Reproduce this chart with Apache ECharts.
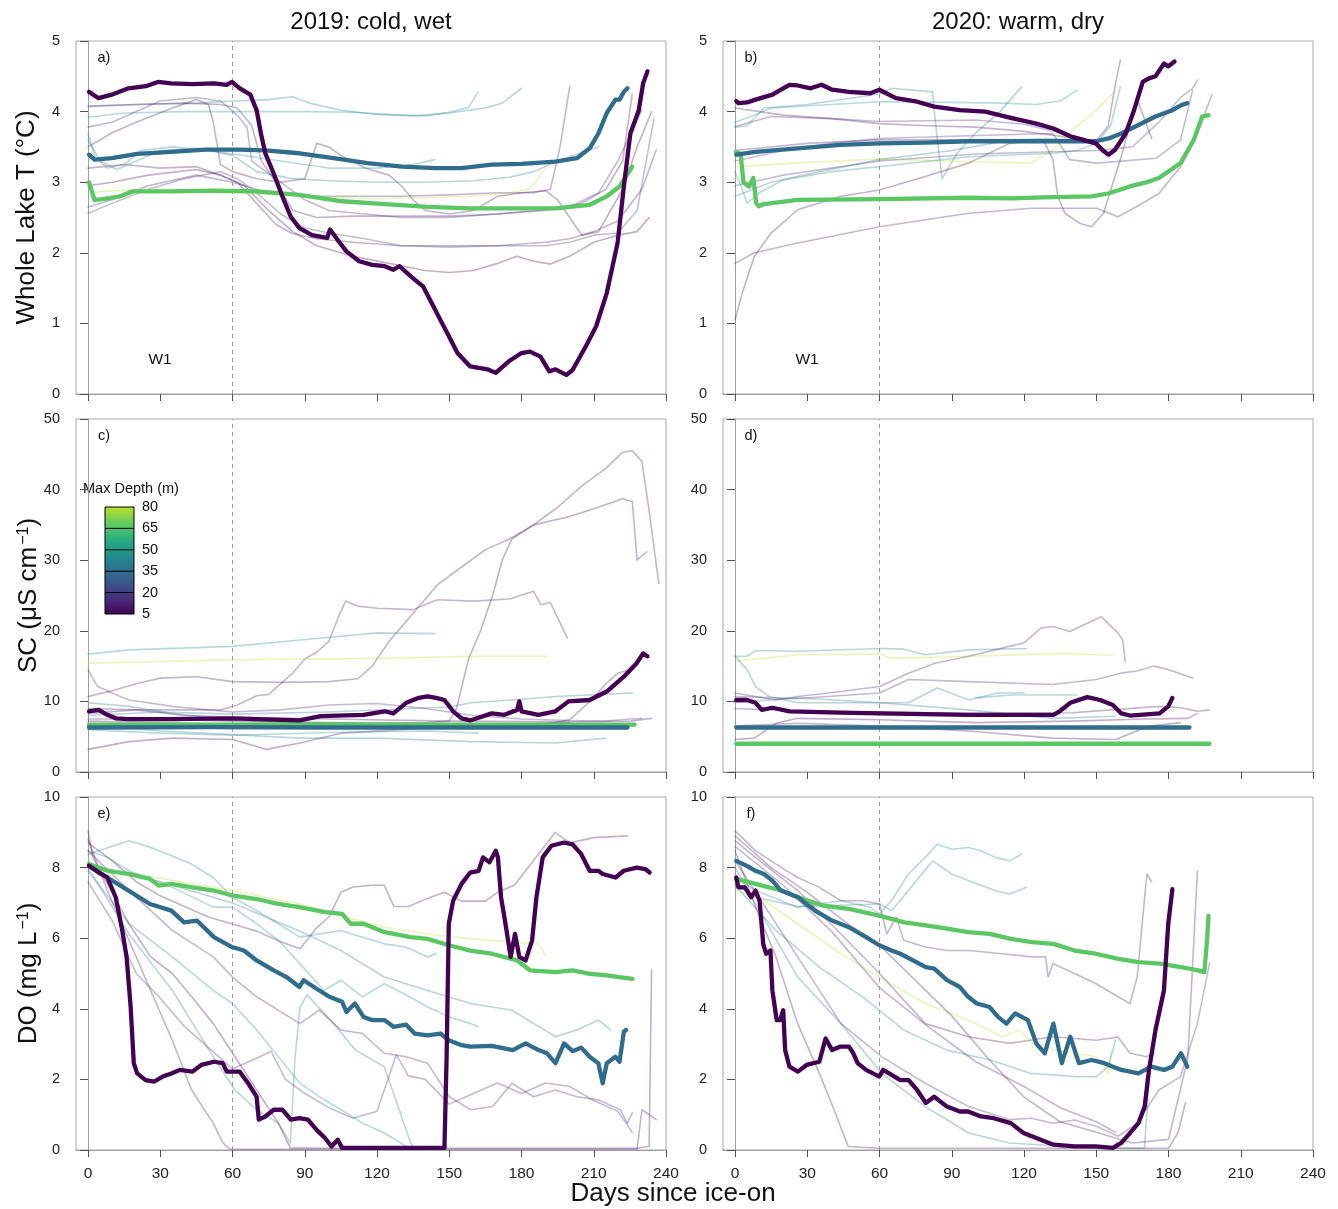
<!DOCTYPE html>
<html><head><meta charset="utf-8">
<script src="https://cdn.jsdelivr.net/npm/echarts@6/dist/echarts.min.js"></script>
<style>html,body{margin:0;padding:0;background:#fff}#c{width:1338px;height:1209px}</style>
</head><body><div id="c"></div>
<script>
// ---------- ticks / labels ----------
const xTicks = [0,30,60,90,120,150,180,210,240];
const colTitles = ['2019: cold, wet','2020: warm, dry'];
const panelLetters = ['a)','b)','c)','d)','e)','f)'];
const depthTicks = [5,20,35,50,65,80];

// ---------- panel a: 2019 whole-lake temperature ----------
const a_d5 = [[0.4,4.28],[4.4,4.19],[9.8,4.24],[16.8,4.33],[24,4.36],[29,4.42],[34.6,4.40],[43.4,4.39],[52.3,4.40],[57.6,4.38],[59.8,4.42],[63,4.33],[67.4,4.24],[70,4.02],[71.8,3.69],[73.6,3.41],[77,3.13],[80.7,2.80],[84.2,2.51],[87.8,2.35],[93,2.25],[99.3,2.21],[100.5,2.33],[103.7,2.18],[107.3,2.02],[112.6,1.88],[118,1.83],[123.2,1.81],[126.8,1.76],[129.4,1.81],[133.9,1.67],[139.2,1.52],[142.7,1.29],[146.3,1.05],[149.8,0.82],[153.4,0.58],[158.7,0.39],[165.8,0.35],[169.3,0.30],[174.6,0.46],[180,0.58],[183.5,0.60],[187.9,0.53],[191.5,0.32],[194.1,0.35],[198.6,0.27],[201.2,0.34],[206.6,0.67],[211,0.96],[215.4,1.43],[219.9,2.14],[222.5,2.94],[225.2,3.69],[228.7,4.02],[230.5,4.40],[232.3,4.57]];
const a_d35 = [[0.4,3.39],[2.7,3.32],[9.8,3.34],[20.4,3.40],[34.6,3.43],[48.8,3.46],[63,3.46],[73.6,3.45],[87.8,3.41],[102,3.34],[116,3.27],[130.3,3.22],[144.5,3.20],[155,3.20],[167.6,3.25],[180,3.26],[194.1,3.29],[203,3.34],[208.3,3.48],[211.9,3.69],[215.4,3.98],[219,4.17],[220.7,4.17],[222.5,4.28],[224,4.33]];
const a_d65 = [[0.4,3.0],[2.7,2.75],[6.2,2.76],[13.3,2.80],[18.6,2.87],[34.6,2.87],[52.3,2.88],[70,2.87],[87.8,2.82],[105.5,2.73],[123.2,2.69],[141,2.65],[158.7,2.63],[176.4,2.63],[194.1,2.63],[208.3,2.68],[215.4,2.80],[220.7,2.94],[224.3,3.13],[226,3.22]];
const aF1 = [[0,4.07],[20,4.1],[45,4.12],[60,4.15],[75,4.17],[85,4.21],[92,4.12],[105,4.02],[120,3.96],[135,3.94],[150,3.98],[165,4.05],[172,4.12],[180,4.33]];
const aF2 = [[0,3.92],[15,3.98],[40,4.0],[60,4.0],[90,4.0],[110,3.99],[125,3.96],[140,3.94],[150,3.99],[158,4.06],[162,4.28]];
const aF3 = [[0,4.08],[20,4.1],[40,4.12],[55,4.1],[62,4.05],[68,3.8],[72,3.3],[78,3.0],[85,2.6],[95,2.5],[110,2.52],[130,2.52],[150,2.52],[170,2.55],[190,2.6],[205,2.7],[215,2.9],[222,3.3],[226,4.25]];
const aF4 = [[0,3.78],[10,3.85],[20,4.0],[30,4.15],[45,4.2],[55,4.15],[62,3.95],[66,3.78],[68,3.3],[72,3.2],[80,3.0],[90,2.75],[100,2.6],[115,2.55],[130,2.5],[150,2.5],[170,2.55],[185,2.6],[200,2.65],[212,2.85],[220,3.3],[230,4.02]];
const aF5 = [[0,3.5],[10,3.7],[20,3.85],[35,4.05],[45,4.17],[50,4.1],[52,3.85],[55,3.25],[60,3.15],[70,3.05],[80,3.0],[90,3.05],[95,3.55],[100,3.5],[105,3.38],[115,3.2],[125,3.1],[130,2.95],[135,2.75],[140,2.6],[150,2.55],[160,2.6],[170,2.8],[180,2.85],[190,2.88],[195,2.75],[200,2.5],[205,2.25],[212,2.3],[222,2.9],[228,3.5],[234,4.0]];
const aF6 = [[0,3.2],[15,3.25],[30,3.2],[45,3.22],[55,3.1],[62,3.0],[70,2.7],[78,2.4],[85,2.27],[95,2.2],[110,2.15],[130,2.1],[150,2.1],[170,2.1],[190,2.15],[200,2.2],[210,2.3],[220,2.45],[230,2.9],[236,3.46]];
const aF7 = [[0,2.95],[10,3.0],[25,3.1],[45,3.18],[55,3.1],[65,2.95],[75,2.6],[85,2.3],[95,2.1],[110,1.95],[125,1.85],[140,1.75],[150,1.72],[160,1.75],[170,1.85],[178,1.95],[185,1.88],[192,1.84],[200,1.95],[210,2.15],[220,2.25],[228,2.3],[233,2.5]];
const aF8 = [[0,2.65],[10,2.75],[25,2.95],[45,3.1],[60,3.0],[75,2.85],[90,2.8],[110,2.8],[130,2.8],[150,2.82],[170,2.85],[185,2.85],[192,2.9],[196,3.5],[200,4.35]];
const aF9 = [[0,3.69],[3,3.35],[8,3.2],[15,3.25],[22,3.45],[35,3.5],[50,3.45],[60,3.38],[70,3.15],[85,3.05],[100,3.02],[120,3.0],[140,3.0],[160,3.02],[175,3.07],[185,3.15],[195,3.3],[205,3.42],[212,3.5]];
const aF10 = [[0,3.6],[5,3.3],[12,3.18],[20,3.3],[30,3.45],[45,3.48],[60,3.4],[80,3.3],[100,3.2],[120,3.2],[135,3.25],[144,3.32]];
const aF11 = [[0,2.8],[5,2.87],[20,2.89],[40,2.88],[60,2.85],[80,2.82],[100,2.79],[120,2.77],[140,2.78],[160,2.8],[175,2.85],[183,2.9],[187,3.05],[190,3.22]];
const aF12 = [[0,2.56],[10,2.7],[25,2.9],[40,3.05],[55,3.15],[62,3.05],[70,2.85],[80,2.55],[90,2.35],[100,2.28],[115,2.2],[130,2.1],[150,2.08],[170,2.1],[190,2.1],[200,2.15],[210,2.25],[220,2.28],[228,2.6],[235,3.9]];

// ---------- panel b: 2020 whole-lake temperature ----------
const b_d5 = [[0.5,4.15],[1.4,4.12],[5,4.13],[8.5,4.17],[15.5,4.24],[22.6,4.38],[26,4.37],[31.4,4.33],[35.9,4.38],[40.3,4.31],[47.3,4.28],[56.2,4.26],[59.9,4.31],[66.8,4.19],[75.6,4.14],[82.7,4.07],[93.3,4.02],[103.9,4.0],[114.5,3.91],[125.1,3.83],[132.2,3.76],[139.2,3.65],[144.5,3.60],[149.8,3.55],[153.4,3.43],[155.1,3.39],[157.8,3.46],[162.2,3.69],[165.7,4.02],[169.3,4.42],[171.9,4.47],[174.6,4.50],[178.1,4.68],[179.9,4.64],[182.5,4.71]];
const b_d35 = [[0.5,3.39],[8.5,3.43],[26.1,3.48],[43.8,3.53],[59.9,3.55],[79.2,3.56],[96.8,3.58],[114.5,3.58],[132.2,3.58],[149.8,3.58],[155.1,3.62],[160.4,3.69],[167.5,3.81],[174.6,3.93],[181.6,4.02],[185.2,4.09],[187.8,4.12]];
const b_d65 = [[0.5,3.43],[2.3,3.40],[3.5,3.0],[5.8,2.94],[7.6,3.06],[8.8,2.7],[9.9,2.66],[12,2.69],[26,2.75],[60,2.76],[96.8,2.78],[114.5,2.77],[132,2.79],[148,2.80],[155,2.84],[164,2.94],[171,3.0],[176,3.06],[185,3.27],[190.5,3.6],[194,3.93],[196.6,3.95]];
const bF1 = [[0,3.78],[5,3.8],[12,4.05],[30,4.1],[50,4.2],[60,4.25],[65,4.33],[75,4.3],[82,4.28],[84,3.6],[86,3.05],[92,3.4],[100,3.7],[110,4.0],[119,4.35]];
const bF2 = [[0,3.85],[8,3.95],[15,4.05],[40,4.1],[60,4.14],[90,4.13],[110,4.12],[125,4.1],[135,4.15],[142,4.3]];
const bF3 = [[0,4.05],[20,3.95],[40,3.9],[60,3.83],[80,3.8],[100,3.78],[120,3.72],[135,3.65],[145,3.6],[152,3.58]];
const bF4 = [[0,3.79],[15,3.93],[40,3.9],[60,3.86],[80,3.87],[100,3.88],[120,3.82],[135,3.7],[145,3.62],[150,3.55]];
const bF5 = [[0,3.22],[25,3.27],[60,3.33],[97,3.29],[123,3.27],[132,3.46],[142,3.79],[150,4.02],[157,4.26]];
const bF6 = [[0,3.15],[3,2.9],[5,2.7],[10,2.85],[20,3.03],[40,3.15],[60,3.22],[97,3.36],[132,3.41],[142,3.45],[150,3.55],[156,3.8],[160,4.35]];
const bF7 = [[0,2.8],[15,3.0],[35,3.15],[60,3.32],[90,3.45],[115,3.6],[130,3.62],[140,3.6],[148,3.58]];
const bF8 = [[0,1.05],[3,1.43],[8,1.95],[15,2.28],[26,2.61],[44,2.8],[60,2.89],[79,3.08],[97,3.27],[114,3.55],[128,3.6],[132,3.32],[134,2.8],[137,2.56],[143,2.42],[148,2.37],[153,2.56],[160,3.32],[167,4.17],[170,3.9],[173,3.62]];
const bF9 = [[0,1.85],[8,2.0],[26,2.14],[60,2.37],[97,2.56],[123,2.63],[150,2.63],[159,2.51],[167,2.66],[176,2.84],[185,3.22],[192,3.69],[198,4.24]];
const bF10 = [[0,3.3],[20,3.45],[40,3.55],[60,3.62],[90,3.65],[120,3.68],[132,3.69],[139,3.32],[150,3.27],[175,3.34],[185,3.6],[190,4.3]];
const bF11 = [[0,3.45],[30,3.55],[60,3.6],[100,3.6],[130,3.6],[150,3.58],[155,3.8],[158,4.4],[160,4.73]];
const bF12 = [[0,2.95],[20,3.1],[60,3.3],[100,3.4],[150,3.45],[165,3.5],[176,3.85],[185,4.2],[190,4.33],[192,4.45]];

// ---------- panel c: 2019 specific conductance ----------
const c_d5 = [[0.4,8.6],[4.4,8.8],[8,8.1],[11.5,7.6],[16.8,7.5],[34.6,7.5],[59.8,7.6],[70,7.5],[87.8,7.3],[96.6,7.9],[114.4,8.1],[123.2,8.6],[126.8,8.3],[132.1,9.8],[137.4,10.5],[141,10.7],[144.5,10.5],[148,10.2],[151.6,8.6],[155.1,7.6],[158.7,7.3],[167.6,8.3],[172.9,8.1],[178.2,8.8],[179.1,10.0],[180,8.6],[187,8.1],[194.1,8.6],[199.5,10.0],[208.3,10.2],[215.4,11.4],[222.5,13.5],[227.8,15.4],[230.5,16.8],[232.3,16.4]];
const c_d35 = [[0.4,6.3],[50,6.35],[100,6.3],[150,6.3],[200,6.3],[224,6.3]];
const c_d65 = [[0.4,6.7],[50,6.7],[100,6.75],[150,6.7],[200,6.7],[227,6.7]];
const cF1 = [[0,10.7],[10,11.5],[20,12.5],[30,13.3],[45,13.5],[60,12.8],[80,12.7],[100,12.8],[112,13.2],[118,15],[125,18.5],[135,22.5],[145,26.5],[155,29],[165,31.5],[175,33],[185,35],[195,37.5],[205,40.5],[215,43],[222,45.3],[226,45.5],[230,44],[233,37],[237,26.7]];
const cF2 = [[0,7.2],[30,7],[60,6.8],[90,6.8],[120,6.9],[140,7],[150,7.2],[153,9],[158,16],[163,20],[168,25],[172,30],[176,33],[185,35],[200,36.2],[210,37.3],[222,38.7],[226,38.3],[228,30],[232,31.2]];
const cF3 = [[0,8.3],[20,8.8],[40,8.8],[55,8.8],[62,9.5],[70,10.8],[75,11],[85,14],[90,16],[95,17],[100,18.5],[104,22],[107,24.2],[112,23.5],[120,23.2],[135,23],[145,24.4],[160,24.2],[175,24.5],[185,25.6],[188,23.7],[192,24],[199,19]];
const cF4 = [[0,16.7],[17,17.3],[60,17.8],[88,18.7],[120,19.7],[144,19.6]];
const cF5 = [[0,15.4],[60,15.9],[123,16.1],[159,16.4],[190,16.4]];
const cF6 = [[0,14.5],[4,12.1],[10,11.2],[17,10.2],[25,9.8],[35,9.3],[50,8.8],[60,8.5],[80,8.8],[100,9.5],[120,9.7],[140,9.0],[160,8.0],[180,7.5],[200,7.3],[215,7.2],[225,7.5],[230,7.6]];
const cF7 = [[0,9.8],[17,9.3],[35,8.3],[60,7.4],[90,7.0],[120,6.8],[150,6.5],[180,6.4]];
const cF8 = [[0,6.7],[30,5.8],[60,5.3],[88,4.8],[120,4.8],[159,4.3],[194,4.1],[215,4.8]];
const cF9 = [[0,3.2],[17,4.3],[35,4.8],[60,4.6],[70,3.6],[74,3.2],[88,4.1],[105,5.5],[130,6.0],[150,6.5],[180,6.8],[200,7.0]];
const cF10 = [[0,6.0],[30,5.5],[60,5.2],[100,5.6],[141,5.8],[162,5.5]];
const cF11 = [[0,8.0],[30,8.5],[60,8.2],[100,8.5],[150,9.2],[159,9.8],[176,10.2],[194,10.7],[226,11.2]];
const cF12 = [[0,7.5],[30,7.5],[60,7.2],[100,7.0],[150,6.8],[190,6.8],[200,7.4],[210,10.5],[215,12.5],[220,14.0],[225,14.5]];
const cF13 = [[0,9.0],[20,8.8],[40,8.0],[60,7.8],[100,7.5],[150,7.2],[200,7.1],[225,7.2],[234,7.6]];

// ---------- panel d: 2020 specific conductance ----------
const d_d5 = [[0.5,10.2],[4.9,10.2],[8.5,9.8],[11.1,8.8],[15.5,9.1],[22.6,8.6],[43.8,8.4],[59.9,8.3],[96.8,8.1],[132.2,8.1],[134.8,8.6],[139.2,9.8],[146.3,10.6],[151.6,10.2],[156.9,9.5],[160.4,8.3],[164,8.0],[176.3,8.3],[179.9,9.3],[181.6,10.5]];
const d_d35 = [[0.5,6.3],[50,6.3],[100,6.3],[150,6.3],[188.7,6.3]];
const d_d65 = [[0.5,4.0],[50,4.0],[100,4.0],[150,4.0],[197,4.0]];
const dF1 = [[0,16.4],[5,16.4],[8.5,17.2],[26,17.1],[60,17.5],[70,17.4],[79,16.6],[97,17.3],[121,17.5]];
const dF2 = [[0,15.7],[26,16.6],[60,16.7],[65,16.1],[97,16.4],[138,16.8],[157,16.5]];
const dF3 = [[0,11.2],[17,10.2],[26,10.7],[44,11.4],[60,12.1],[72,14],[83,15.4],[97,16.4],[108,17.3],[120,18.3],[127,20.4],[132,20.6],[139,19.9],[152,22],[159,19.7],[161,18.7],[162,15.7]];
const dF4 = [[0,10.7],[26,10.4],[60,11.2],[72,13.1],[97,12.8],[132,12.4],[150,13.1],[160,14],[167,14.3],[174,15],[180,14.5],[190,13.3]];
const dF5 = [[0,9.8],[26,10.5],[60,9.8],[72,9.8],[84,11.9],[97,10.2],[109,11.2],[120,11.2]];
const dF6 = [[100,10.5],[115,10.9],[130,10.9],[142,10.9]];
const dF7 = [[0,16.4],[5,14.5],[8.5,12.1],[14,10.7],[26,9.8],[60,9.8],[97,8.8],[132,7.6],[158,7.9]];
const dF8 = [[0,6.5],[26,6.9],[60,6.5],[97,5.8],[132,4.8],[158,4.6],[172,6.5],[185,7.0]];
const dF9 = [[0,9.0],[30,8.6],[60,8.5],[100,8.3],[140,8.4],[176,9.3],[185,9.1],[192,8.6],[197,8.8]];
const dF10 = [[0,4.6],[8,4.8],[17,6.9],[26,7.6],[60,7.4],[100,7.0],[140,7.2],[170,7.5],[188,7.6],[192,8.3]];

// ---------- panel e: 2019 dissolved oxygen ----------
const e_d5 = [[0.4,8.05],[4.4,7.86],[8,7.72],[11.5,7.16],[14.2,6.22],[16,5.47],[17.7,4.05],[19,2.46],[20.4,2.17],[23.9,1.98],[27.5,1.94],[31,2.08],[34.6,2.17],[38.1,2.27],[43.4,2.22],[47,2.41],[52.3,2.5],[55.9,2.46],[57.6,2.22],[62.9,2.22],[66.5,1.89],[70,1.51],[70.9,0.86],[73.6,0.95],[77.1,1.14],[80.7,1.14],[84.2,0.86],[87.8,0.9],[91.3,0.86],[94.9,0.57],[98.4,0.34],[101.1,0.1],[103.7,0.29],[105.5,0.06],[120,0.06],[135,0.06],[148,0.06],[148.9,2.64],[149.8,6.41],[151.6,7.06],[155.1,7.54],[158.7,7.86],[162.2,7.91],[164,8.29],[166.7,8.15],[169.3,8.48],[170.2,8.29],[171.5,7.16],[172.9,6.6],[175.5,5.47],[177.3,6.12],[179.1,5.47],[181.7,5.37],[184.4,5.94],[186.2,7.16],[188.8,8.29],[192.4,8.62],[197.7,8.71],[201.2,8.66],[204.8,8.38],[208.3,7.91],[211.9,7.91],[213.7,7.82],[219,7.72],[222.5,7.91],[227.8,8.0],[231.4,7.96],[233.2,7.86]];
const e_d35 = [[0.4,8.05],[8,7.72],[16.8,7.35],[25.7,6.97],[34.6,6.78],[39.9,6.45],[45.2,6.5],[52.3,6.03],[59.8,5.75],[64.7,5.65],[70,5.37],[77.1,5.09],[82.4,4.9],[87.8,4.62],[89.5,4.81],[94.9,4.57],[100.2,4.34],[105.5,4.2],[107.3,3.91],[110.8,4.15],[114.4,3.77],[117.9,3.68],[123.2,3.68],[126.8,3.49],[132.1,3.55],[135.6,3.3],[141,3.25],[146.3,3.3],[149.8,3.11],[155.1,2.97],[158.7,2.93],[167.6,2.95],[176.4,2.83],[181.7,3.02],[187.1,2.83],[190.6,2.74],[194.1,2.46],[197.7,3.02],[201.2,2.8],[204.8,2.9],[208.3,2.64],[211.9,2.46],[213.7,1.89],[215.4,2.46],[219,2.64],[220.7,2.5],[222.5,3.35],[223.4,3.4]];
const e_d65 = [[0.4,8.1],[8,7.91],[16.8,7.82],[25.7,7.68],[29.3,7.49],[34.6,7.54],[43.4,7.44],[52.3,7.35],[59.8,7.21],[70,7.11],[78.9,6.97],[87.8,6.88],[98.4,6.74],[105.5,6.69],[109,6.41],[114.4,6.41],[123.2,6.17],[133.9,6.03],[141,5.98],[149.8,5.8],[158.7,5.65],[167.6,5.56],[178.2,5.37],[183.5,5.09],[194.1,5.04],[201.2,5.09],[208.3,4.99],[215.4,4.95],[220.7,4.9],[226.1,4.85]];
const eF1 = [[0,8.0],[30,7.7],[60,7.35],[88,6.97],[105,6.64],[123,6.31],[141,6.12],[159,5.98],[176,5.89],[187,5.84],[190,5.51]];
const eF2 = [[0,8.38],[17,8.76],[26,8.57],[35,8.33],[43,8.1],[52,7.72],[60,7.16],[70,6.78],[79,6.41],[88,6.03],[96,6.12],[105,6.22],[114,6.03],[123,5.84],[132,5.75],[141,5.47],[144.5,5.56]];
const eF3 = [[0,8.48],[8,8.29],[17,7.91],[35,7.44],[52,6.88],[60,6.88],[70,6.41],[79,5.94],[88,5.28],[98,4.52],[105,4.81],[114,4.34],[123,4.71],[132,4.4],[141,4.05],[150,3.77],[159,3.58],[162,3.49]];
const eF4 = [[0,8.1],[30,7.6],[60,7.0],[88,6.2],[105,5.65],[123,4.9],[141,4.52],[159,4.15],[176,3.96],[194,3.21],[203,3.4],[212,3.68],[217,3.4]];
const eF5 = [[0,7.9],[17,6.41],[35,5.47],[52,4.52],[60,4.15],[70,3.4],[79,2.64],[88,1.89],[96,1.51],[105,1.14],[114,0.76],[123,0.48],[130,0.2],[134,0]];
const eF6 = [[0,8.0],[17,6.12],[35,4.52],[52,2.64],[61,1.7],[70,1.14],[79,0.76],[84,0.2],[86,2.64],[88,4.05],[91,4.4],[102,3.58],[111,2.83],[123,2.36],[134,0.2],[136,0]];
const eF7 = [[0,9.04],[2,8.29],[8,7.54],[17,6.41],[26,5.47],[35,5.0],[43,4.34],[52,3.58],[61,2.64],[70,1.7],[79,0.76],[84,0.06],[100,0.05],[150,0.05],[200,0.05],[228,0.05],[233,0.1],[234,5.1]];
const eF8 = [[0,8.8],[8,7.35],[17,5.94],[26,4.52],[35,3.11],[43,1.7],[52,0.76],[56,0.2],[59,0.02],[100,0.02],[150,0.02],[200,0.02],[228,0.02],[230,1.14],[232,1.05],[236,0.86]];
const eF9 = [[0,8.48],[17,7.35],[35,6.22],[52,5.47],[60,4.9],[70,4.34],[88,3.58],[96,3.96],[105,3.4],[114,3.3],[123,2.74],[132,2.64],[141,2.46],[150,1.51],[159,1.14],[168,1.23],[176,1.89],[185,1.51],[194,1.7],[203,1.51],[212,1.42],[221,1.14],[224,0.76],[226,1.05]];
const eF10 = [[0,8.7],[10,8.2],[20,7.6],[30,7.2],[40,6.9],[50,6.6],[60,6.4],[70,6.2],[80,5.9],[88,5.7],[95,6.3],[100,6.6],[105,7.3],[110,7.45],[118,7.5],[123,7.5],[127,6.9],[133,6.9],[140,7.1],[148,7.3],[155,7.05],[165,7.05],[170,7.3],[177,7.5],[185,8.2],[194,9.0],[200,8.7],[210,8.85],[224,8.9]];
const eF11 = [[0,7.6],[10,6.5],[20,5.0],[30,4.3],[40,3.5],[50,2.9],[60,2.3],[70,2.6],[76,2.8],[82,2.0],[90,1.6],[100,1.2],[110,0.9],[120,1.1],[128,2.7],[133,2.1],[140,2.0],[150,1.3],[160,1.6],[170,1.9],[180,1.6],[190,1.9],[200,1.8],[210,1.4],[220,1.1],[226,0.5]];

// ---------- panel f: 2020 dissolved oxygen ----------
const f_d5 = [[0.5,7.72],[1.4,7.44],[4.1,7.44],[6.7,7.16],[8.5,7.35],[10.2,7.06],[11.7,5.84],[12.9,5.56],[14.7,5.65],[15.5,4.52],[17.3,3.68],[18.7,3.68],[20,3.96],[20.8,2.83],[22.6,2.36],[26.1,2.22],[29.7,2.41],[35,2.5],[37.6,3.16],[40.3,2.83],[43.8,2.93],[47.3,2.93],[49.1,2.74],[50.9,2.46],[54.4,2.27],[59.9,2.08],[61.5,2.27],[65,2.13],[68.6,1.98],[72.1,1.98],[75.6,1.7],[79.2,1.33],[82.7,1.51],[88,1.23],[93.3,1.09],[96.8,1.09],[102.1,0.95],[107.4,0.9],[114.5,0.76],[119.8,0.48],[126.9,0.29],[132.2,0.15],[141,0.1],[149.8,0.1],[156.9,0.06],[160.4,0.2],[164,0.48],[167.5,0.76],[170.1,1.23],[171.9,2.27],[174.6,3.4],[178.1,4.52],[179.9,6.41],[181.6,7.39]];
const f_d35 = [[0.5,8.19],[4.9,8.05],[8.5,7.91],[12,7.82],[15.5,7.63],[19.1,7.35],[26.1,7.16],[33.2,6.78],[40.3,6.5],[47.3,6.31],[54.4,6.03],[59.9,5.8],[65,5.65],[68.6,5.56],[73.9,5.37],[79.2,5.18],[82.7,5.14],[88,4.81],[93.3,4.62],[96.8,4.34],[100.4,4.15],[105.7,4.05],[109.2,3.77],[112.7,3.58],[116.3,3.87],[121.6,3.68],[125.1,3.02],[128.6,2.74],[132.2,3.58],[135.7,2.46],[139.2,3.21],[142.8,2.46],[148.1,2.55],[153.4,2.46],[156.9,2.36],[160.4,2.27],[167.5,2.17],[172.8,2.36],[178.1,2.27],[181.6,2.36],[185.2,2.74],[187.8,2.36]];
const f_d65 = [[0.5,7.68],[8.5,7.54],[19.1,7.35],[26.1,7.16],[36.7,6.92],[47.3,6.83],[59.9,6.64],[70.3,6.45],[79.2,6.36],[88,6.27],[96.8,6.17],[105.7,6.12],[114.5,5.98],[123.3,5.89],[132.2,5.84],[141,5.65],[149.8,5.56],[158.7,5.42],[167.5,5.32],[176.3,5.28],[185.2,5.18],[192.2,5.09],[194.9,5.04],[196.1,6.03],[196.6,6.64]];
const fF1 = [[0,7.72],[8.5,7.35],[26,6.88],[44,7.06],[56,6.88],[60,6.69],[65,7.06],[72,7.82],[79,8.29],[84,8.66],[90,8.52],[97,8.57],[102,8.48],[108,8.29],[114,8.19],[119,8.38]];
const fF2 = [[0,7.54],[8.5,7.16],[26,6.9],[60,6.97],[65,6.78],[72,7.35],[82,8.19],[90,7.82],[97,7.63],[108,7.35],[114,7.25],[121,7.44]];
const fF3 = [[0,9.04],[8.5,8.48],[17,8.1],[26,7.72],[35,7.44],[44,7.06],[53,7.06],[60,6.97],[63,6.12],[67,6.6],[70,5.94],[79,5.75],[88,5.65],[97,5.65],[111,5.56],[123,5.47],[129,5.47],[130,4.9],[132,5.28],[141,5.0],[150,4.71],[159,4.34],[164,4.15],[167,4.9],[171,7.82],[173,7.6]];
const fF4 = [[0,7.35],[12,7.06],[26,6.41],[44,5.56],[60,4.9],[79,4.15],[97,3.68],[111,3.21],[118,3.4],[125,2.93],[141,2.74],[150,2.64],[155,2.17],[156,2.8]];
const fF5 = [[0,7.5],[17,6.22],[35,5.18],[53,4.34],[70,3.4],[88,2.83],[106,2.55],[123,2.17],[141,2.08],[150,2.08],[155,2.36],[158,3.11]];
const fF6 = [[0,8.76],[8.5,8.29],[26,7.35],[44,6.12],[60,5.0],[79,3.58],[97,3.21],[114,3.02],[132,3.21],[150,3.11],[159,3.2],[164,2.74],[171,2.64],[174,2.75]];
const fF7 = [[0,8.48],[8.5,6.88],[17,5.47],[26,3.58],[35,2.17],[40,1.33],[47,0.1],[60,0.05],[100,0.05],[150,0.05],[170,0.05],[180,0.05],[184,0.5],[187,1.33]];
const fF8 = [[0,8.2],[26,5.47],[44,3.58],[61,2.64],[79,1.89],[97,1.23],[114,0.86],[123,0.9],[132,0.76],[141,0.85],[150,0.67],[159,0.39],[167,0.76],[176,1.7],[185,2.08],[192,3.58],[197,5.28]];
const fF9 = [[0,8.0],[26,4.9],[44,3.58],[61,2.17],[79,1.23],[97,0.48],[114,0.2],[150,0.05],[170,0.05],[172,2.0],[174,3.49]];
const fF10 = [[0,8.9],[15,8.0],[30,7.3],[45,6.5],[60,5.8],[75,4.8],[90,3.8],[105,2.6],[120,1.5],[135,0.8],[150,0.5],[165,0.2],[180,0.3],[188,2.6],[192,7.91]];
const fF11 = [[0,8.6],[20,7.5],[40,6.2],[60,4.6],[80,3.5],[100,2.5],[120,1.8],[135,1.2],[150,0.8],[158,0.5]];

// ---------- which line belongs where: [panel, max depth (m), data, bold] ----------
const lineTable = [
  [0,40,aF1],[0,46,aF2],[0,10,aF3],[0,14,aF4],[0,8,aF5],[0,10,aF6],[0,6,aF7],[0,12,aF8],[0,38,aF9],[0,44,aF10],[0,80,aF11],[0,18,aF12],
  [1,42,bF1],[1,47,bF2],[1,10,bF3],[1,14,bF4],[1,80,bF5],[1,45,bF6],[1,40,bF7],[1,8,bF8],[1,12,bF9],[1,15,bF10],[1,10,bF11],[1,18,bF12],
  [2,10,cF1],[2,8,cF2],[2,12,cF3],[2,45,cF4],[2,80,cF5],[2,15,cF6],[2,40,cF7],[2,42,cF8],[2,6,cF9],[2,44,cF10],[2,38,cF11],[2,10,cF12],[2,8,cF13],
  [3,42,dF1],[3,80,dF2],[3,12,dF3],[3,14,dF4],[3,40,dF5],[3,44,dF6],[3,38,dF7],[3,8,dF8],[3,10,dF9],[3,6,dF10],
  [4,80,eF1],[4,42,eF2],[4,46,eF3],[4,38,eF4],[4,44,eF5],[4,40,eF6],[4,6,eF7],[4,10,eF8],[4,12,eF9],[4,8,eF10],[4,14,eF11],
  [5,44,fF1],[5,40,fF2],[5,12,fF3],[5,80,fF4],[5,42,fF5],[5,10,fF6],[5,8,fF7],[5,14,fF8],[5,38,fF9],[5,10,fF10],[5,12,fF11],
  [0,67,a_d65,1],[0,34,a_d35,1],[0,5,a_d5,1],
  [1,67,b_d65,1],[1,34,b_d35,1],[1,5,b_d5,1],
  [2,67,c_d65,1],[2,34,c_d35,1],[2,5,c_d5,1],
  [3,67,d_d65,1],[3,34,d_d35,1],[3,5,d_d5,1],
  [4,67,e_d65,1],[4,34,e_d35,1],[4,5,e_d5,1],
  [5,67,f_d65,1],[5,34,f_d35,1],[5,5,f_d5,1]
];

// ---------- colours ----------
const VIR = ['#440154','#482576','#414487','#35608D','#2A788E','#21908C','#22A884','#43BF71','#7AD151','#BBDF27','#FDE725'];
function hex2rgb(h){return [parseInt(h.substr(1,2),16),parseInt(h.substr(3,2),16),parseInt(h.substr(5,2),16)];}
function vir(t){t=Math.max(0,Math.min(1,t));const p=t*10,i=Math.min(9,Math.floor(p)),f=p-i;const a=hex2rgb(VIR[i]),b=hex2rgb(VIR[i+1]);return a.map((v,k)=>Math.round(v+(b[k]-v)*f));}
function depthT(d){return (d-5)/75*0.9;}
function depthColor(d,alpha){const c=vir(depthT(d));return alpha==null?'rgb('+c.join(',')+')':'rgba('+c.join(',')+','+alpha+')';}

// ---------- layout ----------
const FONT = '"Liberation Sans", Arial, Helvetica, sans-serif';
const gridLefts = [76,723];
const gridTops = [41,419,797];
const GW = 590, GH = 353;
const yCfg = [{max:5,interval:1},{max:50,interval:10},{max:10,interval:2}];

const grids=[],xAxes=[],yAxes=[];
for(let p=0;p<6;p++){
  const col=p%2,row=Math.floor(p/2);
  grids.push({left:gridLefts[col],top:gridTops[row],width:GW,height:GH,show:true,borderColor:'#a8a8a8',borderWidth:1,backgroundColor:'transparent',containLabel:false});
  xAxes.push({type:'value',gridIndex:p,min:-5,max:240,
    axisLine:{show:true,onZero:false,lineStyle:{color:'#a0a0a0',width:1}},
    axisTick:{show:true,length:7,customValues:xTicks,lineStyle:{color:'#505050'}},
    axisLabel:{show:row===2,customValues:xTicks,margin:16,fontSize:15.5,color:'#222',fontFamily:FONT},
    splitLine:{show:false}});
  yAxes.push({type:'value',gridIndex:p,min:0,max:yCfg[row].max,interval:yCfg[row].interval,
    axisLine:{show:true,lineStyle:{color:'#a0a0a0',width:1}},
    axisTick:{show:true,length:8,lineStyle:{color:'#505050'}},
    axisLabel:{show:true,margin:16,fontSize:14.5,color:'#222',fontFamily:FONT},
    splitLine:{show:false}});
}

const series=[];
lineTable.forEach(([p,d,data,bold],k)=>{
  series.push({type:'line',xAxisIndex:p,yAxisIndex:p,data:data,showSymbol:false,symbol:'none',silent:true,clip:true,
    z:bold?5:2,
    lineStyle:{color:bold?depthColor(d):depthColor(d,0.32),width:bold?4.3:1.6,cap:'round',join:'round'}});
});
// dashed reference line at day 60 in every panel
for(let p=0;p<6;p++){
  series.push({type:'line',xAxisIndex:p,yAxisIndex:p,data:[],silent:true,z:1,
    markLine:{silent:true,symbol:'none',animation:false,label:{show:false},
      lineStyle:{type:[4,4],color:'#9a9a9a',width:1},data:[{xAxis:60}]}});
}

// ---------- graphic text and colour bar ----------
const graphic=[];
colTitles.forEach((t,i)=>graphic.push({type:'text',x:gridLefts[i]+GW/2,y:22,style:{text:t,fontSize:24,fontFamily:FONT,fill:'#111',align:'center',verticalAlign:'middle'}}));
panelLetters.forEach((t,p)=>{const col=p%2,row=Math.floor(p/2);
  graphic.push({type:'text',x:gridLefts[col]+28,y:gridTops[row]+17,style:{text:t,fontSize:14.5,fontFamily:FONT,fill:'#111',align:'center',verticalAlign:'middle'}});});
[0,1].forEach(col=>graphic.push({type:'text',x:gridLefts[col]+84,y:gridTops[0]+319,style:{text:'W1',fontSize:15.5,fontFamily:FONT,fill:'#111',align:'center',verticalAlign:'middle'}}));
const yTitles=[
  {text:'Whole Lake T (°C)',rich:null},
  {text:'{n|SC (μS cm}{s|−1}{n|)}',rich:true},
  {text:'{n|DO (mg L}{s|−1}{n|)}',rich:true}];
yTitles.forEach((yt,row)=>{
  const st={text:yt.text,fontSize:26,fontFamily:FONT,fill:'#111',align:'center',verticalAlign:'middle'};
  if(yt.rich) st.rich={n:{fontSize:26,fontFamily:FONT,fill:'#111',verticalAlign:'bottom'},s:{fontSize:16,fontFamily:FONT,fill:'#111',verticalAlign:'top',padding:[0,0,0,2]}};
  graphic.push({type:'text',x:row===0?27:29,y:gridTops[row]+GH/2,rotation:Math.PI/2,style:st});
});
graphic.push({type:'text',x:673,y:1194,style:{text:'Days since ice-on',fontSize:26,fontFamily:FONT,fill:'#111',align:'center',verticalAlign:'middle'}});

// colour bar (legend for max depth)
const cbX=105,cbTop=507,cbW=29,cbH=107;
const stops=[];for(let i=0;i<=20;i++){const s=i/20;const c=vir(0.9*s);stops.push({offset:s,color:'rgb('+c.join(',')+')'});}
graphic.push({type:'rect',shape:{x:cbX,y:cbTop,width:cbW,height:cbH},style:{fill:new echarts.graphic.LinearGradient(0,1,0,0,stops),stroke:'#000',lineWidth:1}});
depthTicks.forEach(d=>{
  const y=cbTop+cbH-(d-5)/75*cbH;
  if(d>5&&d<80) graphic.push({type:'line',shape:{x1:cbX,y1:y,x2:cbX+cbW,y2:y},style:{stroke:'#000',lineWidth:1}});
  graphic.push({type:'text',x:142,y:y,style:{text:String(d),fontSize:14.5,fontFamily:FONT,fill:'#111',align:'left',verticalAlign:'middle'}});
});
graphic.push({type:'text',x:83,y:489,style:{text:'Max Depth (m)',fontSize:14.5,fontFamily:FONT,fill:'#111',align:'left',verticalAlign:'middle'}});

const chart=echarts.init(document.getElementById('c'),null,{renderer:'canvas',width:1338,height:1209});
chart.setOption({animation:false,backgroundColor:'#fff',grid:grids,xAxis:xAxes,yAxis:yAxes,series:series,graphic:graphic});
</script></body></html>
